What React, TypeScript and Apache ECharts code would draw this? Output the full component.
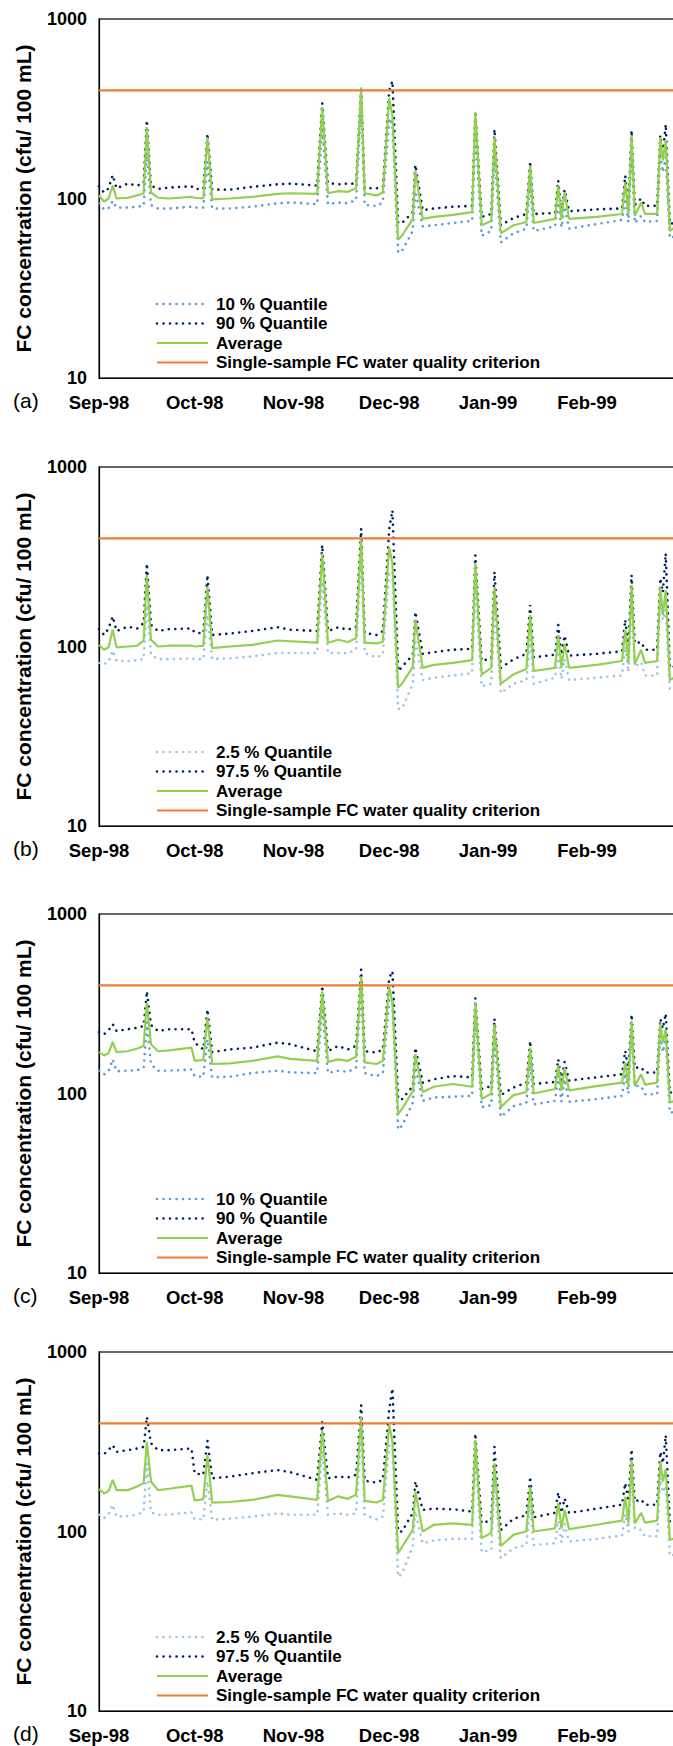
import React, { useEffect, useRef } from "react";
import * as echarts from "echarts";

// Breakpoint days (0 = 1 Sep 1998) shared by every series
const DAYS = [0, 1.6, 3, 4.3, 5.5, 9, 12, 14, 15, 16.3, 18.5, 22, 29, 30, 32.7, 34, 35.5, 41, 48, 56, 60, 68.4, 70, 71.8, 75, 78, 80.6, 82.2, 83.3, 87, 89, 91, 92, 93.8, 95, 98.4, 99.2, 101.5, 105, 111, 117, 118, 120, 123, 124, 126, 130, 134, 135.2, 136.3, 143, 144, 145, 146, 147.4, 156, 164, 165, 166, 167, 168, 170, 171.2, 175, 176, 176.8, 177.7, 179, 181];

const MONTH_START_DAYS = [0, 30, 61, 91, 122, 153];
const MONTH_LABELS = ["Sep-98", "Oct-98", "Nov-98", "Dec-98", "Jan-99", "Feb-99"];
const CRITERION = 400;
const PANEL_LETTERS = ["(a)", "(b)", "(c)", "(d)"];
const NAMES_10_90 = ["10 % Quantile", "90 % Quantile", "Average", "Single-sample FC water quality criterion"];
const NAMES_25_975 = ["2.5 % Quantile", "97.5 % Quantile", "Average", "Single-sample FC water quality criterion"];

// Panel (a)
const lowA = [94, 87, 88, 97, 89, 89, 90, 91, 180, 92, 88, 88, 90, 89, 89, 160, 88, 88, 90, 94, 95, 93, 250, 93, 95, 94, 98, 330, 92, 91, 95, 280, 260, 50, 51, 66, 110, 70, 71, 73, 75, 240, 62, 66, 170, 57, 64, 68, 120, 66, 70, 95, 69, 90, 68, 72, 76, 100, 74, 180, 73, 80, 74, 75, 180, 140, 170, 60, 62];
const highA = [117, 108, 114, 135, 114, 121, 118, 122, 273, 118, 113, 115, 117, 113, 113, 230, 112, 112, 116, 120, 121, 118, 340, 122, 120, 121, 121, 420, 114, 114, 116, 400, 451, 73, 73, 84, 154, 86, 88, 90, 91, 305, 79, 82, 243, 71, 78, 82, 161, 82, 83, 126, 84, 112, 85, 87, 88, 134, 90, 240, 92, 100, 91, 91, 225, 180, 259, 72, 74];
const avgA = [104, 96, 100, 118, 100, 101, 104, 107, 250, 108, 101, 100, 102, 101, 100, 219, 99, 100, 102, 106, 107, 106, 322, 107, 110, 109, 114, 417, 107, 104, 108, 362, 290, 59, 62, 77, 143, 77, 79, 81, 84, 302, 71, 75, 219, 64, 71, 74, 153, 73, 77, 118, 77, 108, 77, 79, 82, 123, 82, 225, 80, 95, 82, 82, 219, 163, 211, 66, 70];

// Panel (b)
const lowB = [81, 80, 82, 95, 83, 83, 84, 85, 170, 90, 85, 85, 86, 85, 85, 150, 85, 86, 88, 92, 92, 92, 230, 92, 92, 92, 96, 300, 92, 87, 90, 260, 260, 45, 45, 62, 110, 65, 67, 69, 71, 210, 60, 62, 160, 55, 62, 65, 110, 62, 67, 90, 66, 85, 65, 67, 69, 100, 72, 170, 77, 82, 69, 69, 180, 140, 160, 57, 58];
const highB = [125, 116, 126, 147, 122, 129, 126, 135, 290, 132, 122, 125, 126, 120, 118, 250, 116, 118, 122, 128, 124, 122, 367, 122, 128, 124, 129, 454, 119, 116, 122, 450, 574, 73, 77, 90, 156, 91, 93, 96, 97, 323, 83, 86, 261, 76, 85, 91, 170, 87, 90, 132, 90, 115, 89, 91, 94, 141, 100, 250, 104, 106, 96, 96, 240, 200, 330, 76, 78];
const avgB = [102, 96, 99, 124, 99, 100, 101, 108, 250, 109, 100, 101, 101, 100, 101, 215, 98, 100, 102, 108, 107, 105, 330, 105, 109, 106, 111, 395, 105, 104, 106, 359, 290, 59, 62, 77, 141, 76, 79, 81, 84, 290, 70, 76, 215, 62, 70, 75, 150, 73, 76, 116, 76, 104, 76, 79, 83, 124, 81, 220, 80, 96, 81, 83, 215, 150, 206, 65, 68];

// Panel (c)
const lowC = [134, 128, 133, 155, 133, 134, 135, 139, 250, 145, 134, 134, 136, 125, 124, 200, 123, 124, 130, 134, 131, 130, 300, 130, 134, 132, 139, 380, 130, 125, 130, 330, 330, 63, 66, 89, 140, 91, 95, 96, 97, 270, 84, 86, 200, 74, 85, 89, 150, 87, 91, 125, 90, 120, 90, 93, 97, 130, 100, 220, 110, 110, 99, 99, 210, 170, 200, 78, 80];
const highC = [220, 214, 225, 243, 223, 228, 232, 238, 371, 241, 223, 228, 228, 192, 176, 294, 170, 176, 180, 192, 188, 172, 398, 172, 184, 176, 184, 491, 172, 169, 176, 440, 480, 93, 93, 110, 180, 115, 120, 125, 123, 341, 106, 110, 261, 98, 108, 115, 196, 113, 116, 155, 118, 150, 118, 123, 128, 173, 135, 276, 139, 140, 131, 131, 261, 230, 279, 101, 103];
const avgC = [170, 163, 168, 194, 170, 172, 178, 184, 321, 188, 172, 174, 180, 152, 154, 264, 146, 147, 152, 161, 156, 152, 371, 150, 155, 152, 160, 450, 149, 146, 152, 397, 320, 77, 82, 103, 166, 102, 109, 113, 109, 321, 93, 100, 243, 84, 98, 102, 180, 100, 106, 144, 104, 139, 104, 110, 115, 149, 110, 253, 110, 128, 112, 115, 246, 192, 228, 89, 92];

// Panel (d)
const lowD = [124, 119, 124, 141, 121, 122, 124, 129, 240, 128, 124, 124, 128, 117, 117, 190, 116, 118, 121, 126, 124, 124, 280, 124, 126, 124, 126, 350, 124, 117, 121, 300, 300, 56, 58, 83, 130, 86, 89, 91, 91, 250, 77, 79, 190, 71, 81, 84, 140, 84, 86, 115, 87, 110, 88, 91, 95, 125, 100, 200, 104, 102, 94, 94, 200, 165, 180, 73, 75];
const highD = [272, 270, 285, 303, 278, 284, 290, 296, 435, 310, 284, 284, 290, 211, 207, 320, 198, 202, 211, 220, 214, 194, 408, 198, 202, 200, 207, 506, 192, 187, 194, 480, 626, 100, 100, 127, 190, 132, 134, 133, 129, 351, 111, 116, 297, 102, 118, 123, 202, 120, 127, 165, 127, 153, 127, 134, 141, 186, 147, 287, 147, 151, 141, 141, 278, 240, 344, 113, 115];
const avgD = [172, 163, 168, 194, 170, 170, 178, 186, 316, 190, 170, 173, 180, 149, 151, 267, 145, 146, 150, 160, 157, 150, 367, 148, 157, 152, 160, 439, 148, 145, 150, 392, 320, 76, 82, 102, 167, 100, 109, 111, 109, 323, 92, 98, 240, 83, 96, 100, 178, 100, 104, 144, 104, 132, 103, 109, 115, 156, 111, 252, 111, 127, 112, 115, 245, 190, 222, 90, 92];

const PANELS = [
  { low: lowA, high: highA, avg: avgA, names: NAMES_10_90, lowColor: "#5B9BD5" },
  { low: lowB, high: highB, avg: avgB, names: NAMES_25_975, lowColor: "#9DC3E6" },
  { low: lowC, high: highC, avg: avgC, names: NAMES_10_90, lowColor: "#5B9BD5" },
  { low: lowD, high: highD, avg: avgD, names: NAMES_25_975, lowColor: "#9DC3E6" },
];

const FONT = '"Liberation Sans", Arial, Helvetica, sans-serif';
const HIGH_COLOR = "#002060";
const AVG_COLOR = "#92D050";
const CRIT_COLOR = "#ED7D31";
const DOT = [0.01, 6.5];

const GRID_TOPS = [19, 467, 914, 1352];
const GRID_H = 359;
const GRID_LEFT = 99;
const GRID_W = 590;
const X_MAX = 185;

function buildOption() {
  const grids: any[] = [];
  const xAxes: any[] = [];
  const yAxes: any[] = [];
  const series: any[] = [];
  const graphics: any[] = [];

  PANELS.forEach((p, i) => {
    const top = GRID_TOPS[i];
    grids.push({
      left: GRID_LEFT,
      top,
      width: GRID_W,
      height: GRID_H,
      show: true,
      borderColor: "#333",
      borderWidth: 1.3,
      containLabel: false,
    });
    xAxes.push({
      type: "value",
      gridIndex: i,
      min: 0,
      max: X_MAX,
      axisLine: { show: true, lineStyle: { color: "#000", width: 1.2 } },
      axisTick: { show: false },
      splitLine: { show: false },
      axisLabel: {
        customValues: MONTH_START_DAYS,
        formatter: (v: number) => {
          const k = MONTH_START_DAYS.indexOf(Math.round(v));
          return k >= 0 ? MONTH_LABELS[k] : "";
        },
        fontSize: 18.5,
        fontWeight: "bold",
        fontFamily: FONT,
        color: "#000",
        margin: 15,
      },
    });
    yAxes.push({
      type: "log",
      logBase: 10,
      gridIndex: i,
      min: 10,
      max: 1000,
      axisLine: { show: true, lineStyle: { color: "#000", width: 1.2 } },
      axisTick: { show: false },
      splitLine: { show: false },
      axisLabel: {
        formatter: (v: number) => String(Math.round(v)),
        fontSize: 18,
        fontWeight: "bold",
        fontFamily: FONT,
        color: "#000",
        margin: 12,
      },
      name: "FC concentration (cfu/ 100 mL)",
      nameLocation: "middle",
      nameGap: 65,
      nameTextStyle: { fontSize: 21, fontWeight: "bold", fontFamily: FONT, color: "#000" },
    });

    const toPts = (arr: number[]) => DAYS.map((d, k) => [d, arr[k]]);
    const common = {
      type: "line",
      xAxisIndex: i,
      yAxisIndex: i,
      symbol: "none",
      showSymbol: false,
      silent: true,
      emphasis: { disabled: true },
    };
    series.push({
      ...common,
      name: p.names[0],
      data: toPts(p.low),
      z: 2,
      lineStyle: { color: p.lowColor, width: 2.6, type: DOT, cap: "round" },
    });
    series.push({
      ...common,
      name: p.names[1],
      data: toPts(p.high),
      z: 3,
      lineStyle: { color: HIGH_COLOR, width: 2.6, type: DOT, cap: "round" },
    });
    series.push({
      ...common,
      name: p.names[2],
      data: toPts(p.avg),
      z: 4,
      lineStyle: { color: AVG_COLOR, width: 2.2 },
    });
    series.push({
      ...common,
      name: p.names[3],
      data: [[0, CRITERION], [X_MAX, CRITERION]],
      z: 5,
      lineStyle: { color: CRIT_COLOR, width: 2.2 },
    });

    // manual legend
    const legendStyles = [
      { stroke: p.lowColor, lineWidth: 2.6, lineDash: DOT, lineCap: "round" },
      { stroke: HIGH_COLOR, lineWidth: 2.6, lineDash: DOT, lineCap: "round" },
      { stroke: AVG_COLOR, lineWidth: 2.2 },
      { stroke: CRIT_COLOR, lineWidth: 2.2 },
    ];
    p.names.forEach((nm, k) => {
      const y = top + 285 + k * 19.5;
      graphics.push({
        type: "line",
        silent: true,
        shape: { x1: 157, y1: y, x2: 208, y2: y },
        style: legendStyles[k],
        z: 10,
      });
      graphics.push({
        type: "text",
        silent: true,
        x: 216,
        y,
        style: {
          text: nm,
          fontSize: 17,
          fontWeight: "bold",
          fontFamily: FONT,
          fill: "#000",
          verticalAlign: "middle",
          align: "left",
        },
        z: 10,
      });
    });

    graphics.push({
      type: "text",
      silent: true,
      x: 13,
      y: top + GRID_H + 22,
      style: {
        text: PANEL_LETTERS[i],
        fontSize: 21,
        fontFamily: FONT,
        fill: "#000",
        verticalAlign: "middle",
        align: "left",
      },
    });
  });

  return {
    animation: false,
    backgroundColor: "#fff",
    grid: grids,
    xAxis: xAxes,
    yAxis: yAxes,
    series,
    graphic: graphics,
  };
}

export default function App() {
  const ref = useRef<HTMLDivElement>(null);
  useEffect(() => {
    if (!ref.current) return;
    const chart = echarts.init(ref.current, null, { renderer: "svg" });
    chart.setOption(buildOption() as any);
    return () => chart.dispose();
  }, []);
  return (
    <div
      style={{
        position: "absolute",
        left: 0,
        top: 0,
        width: 673,
        height: 1746,
        overflow: "hidden",
        background: "#fff",
      }}
    >
      <div ref={ref} style={{ width: 700, height: 1746 }} />
    </div>
  );
}
